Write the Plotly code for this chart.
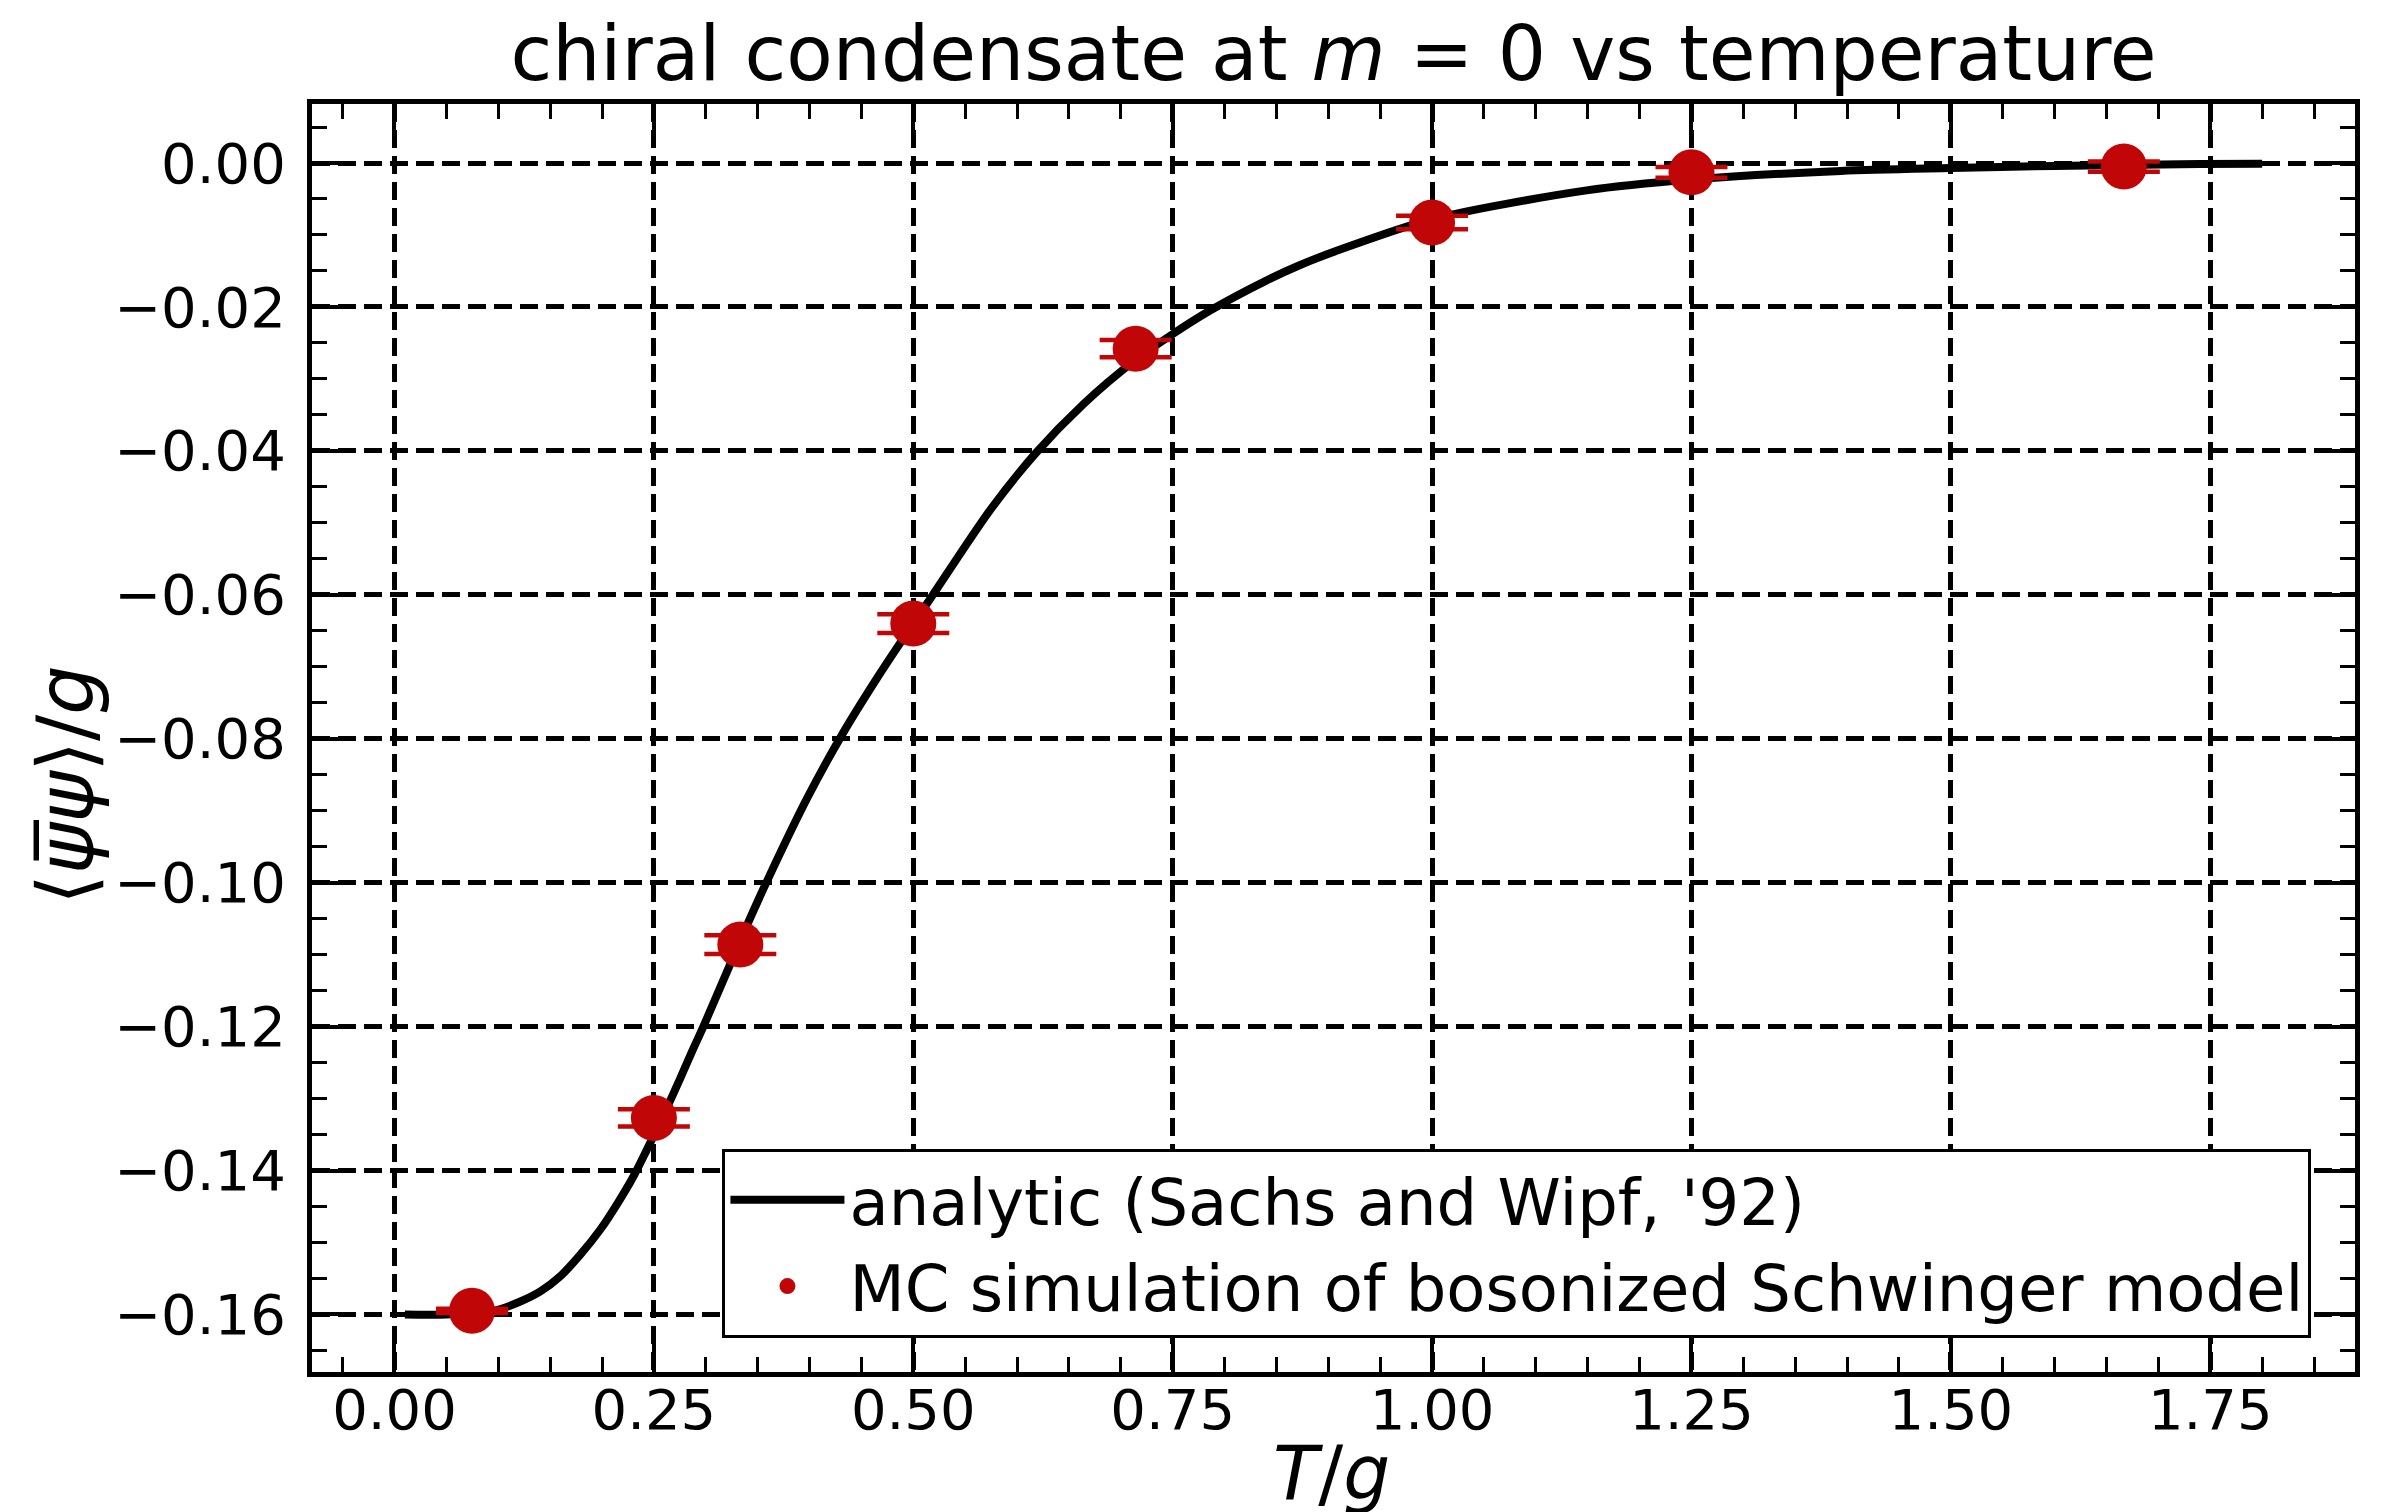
import plotly.graph_objects as go

# analytic curve
curve_T = [0.01, 0.05, 0.0956, 0.1213, 0.1406, 0.1598, 0.1791, 0.1984, 0.2144, 0.2304,
           0.2433, 0.2593, 0.2754, 0.2882, 0.298, 0.3398, 0.3606, 0.3976, 0.4311, 0.465,
           0.5, 0.5175, 0.5742, 0.6175, 0.664, 0.7139, 0.7476, 0.786, 0.8407, 0.8723,
           0.91, 1.0, 1.149, 1.25, 1.394, 1.5, 1.6, 1.667, 1.74, 1.8]
curve_val = [-0.1600, -0.1600, -0.1595, -0.1582, -0.1568, -0.1547, -0.1517, -0.1482, -0.1447, -0.1408,
             -0.1371, -0.1323, -0.1272, -0.1230, -0.1199, -0.1059, -0.0993, -0.0883, -0.0795, -0.0716,
             -0.0640, -0.0603, -0.0482, -0.0404, -0.0335, -0.0274, -0.0240, -0.0205, -0.0163, -0.0142,
             -0.0121, -0.0078, -0.0038, -0.0023, -0.0011, -0.0007, -0.0004, -0.00028, -0.00015, -0.0001]

# MC simulation points
mc_T = [0.0747, 0.25, 0.3333, 0.5, 0.7143, 1.0, 1.25, 1.6667]
mc_val = [-0.1595, -0.1327, -0.1086, -0.0640, -0.0258, -0.00827, -0.0013, -0.0005]
mc_err = [0.0003, 0.0012, 0.0013, 0.0013, 0.0012, 0.00095, 0.00075, 0.0007]

x_ticks = [0.0, 0.25, 0.5, 0.75, 1.0, 1.25, 1.5, 1.75]
y_ticks = [0.0, -0.02, -0.04, -0.06, -0.08, -0.10, -0.12, -0.14, -0.16]

RED = "#C00606"
FONT = "DejaVu Sans"

fig = go.Figure()
fig.add_trace(go.Scatter(
    x=curve_T, y=curve_val, mode="lines",
    line=dict(color="black", width=8, shape="spline", smoothing=0.8),
    name="analytic (Sachs and Wipf, '92)"))
fig.add_trace(go.Scatter(
    x=mc_T, y=mc_val, mode="markers",
    marker=dict(color=RED, size=46, line=dict(width=0)),
    error_y=dict(type="data", array=mc_err, visible=True, color=RED, thickness=4.5, width=36),
    name="MC simulation of bosonized Schwinger model"))

axis_common = dict(
    showline=True, linecolor="black", linewidth=5, mirror="allticks",
    ticks="inside", ticklen=33, tickwidth=4, tickcolor="black",
    showgrid=True, gridcolor="black", gridwidth=4.5, griddash="18px,8px",
    zeroline=False, automargin=False,
    tickfont=dict(family=FONT, size=56, color="black"),
)

fig.update_xaxes(
    range=[-0.0795, 1.8895], tickvals=x_ticks, tickformat=".2f",
    minor=dict(dtick=0.05, tick0=0, ticks="inside", ticklen=15, tickwidth=3, tickcolor="black", showgrid=False),
    ticklabelstandoff=-15,
    **axis_common)
fig.update_yaxes(
    range=[-0.168, 0.0082], tickvals=y_ticks, tickformat=".2f",
    minor=dict(dtick=0.005, tick0=0, ticks="inside", ticklen=15, tickwidth=3, tickcolor="black", showgrid=False),
    ticklabelstandoff=10,
    **axis_common)

fig.add_annotation(text="<i>T</i>/<i>g</i>", xref="paper", yref="paper",
                   x=0.4988, y=-0.080, xanchor="center", yanchor="middle", showarrow=False,
                   font=dict(family=FONT, size=74, color="black"))
fig.add_annotation(text="⟨<i>ψ̅ψ</i>⟩/<i>g</i>", xref="paper", yref="paper",
                   x=-0.1205, y=0.463, xanchor="center", yanchor="middle", showarrow=False,
                   textangle=-90, font=dict(family=FONT, size=78, color="black"))

fig.update_layout(
    width=2390, height=1512,
    margin=dict(l=304, r=43, t=96, b=148, autoexpand=False),
    paper_bgcolor="white", plot_bgcolor="white",
    font=dict(family=FONT, color="black"),
    title=dict(text="chiral condensate at <i>m</i> = 0 vs temperature",
               x=0.5, xref="paper", xanchor="center", y=1 - 45 / 1512, yanchor="middle",
               font=dict(family=FONT, size=76, color="black")),
    legend=dict(x=0.2009, y=0.027, xanchor="left", yanchor="bottom",
                bgcolor="white", bordercolor="black", borderwidth=3,
                font=dict(family=FONT, size=64, color="black"),
                itemwidth=114, tracegroupgap=0),
    showlegend=True,
)

fig.write_html("out.html")
